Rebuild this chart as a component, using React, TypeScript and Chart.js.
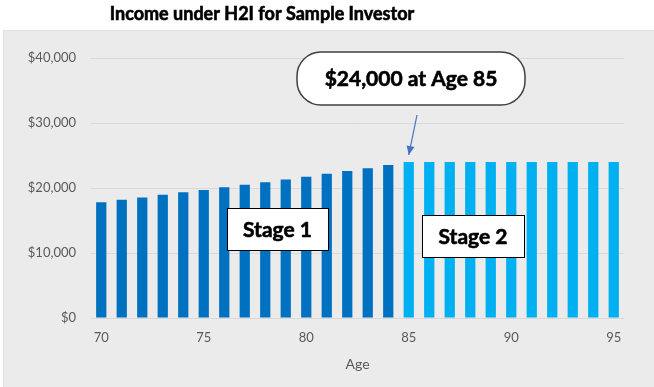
import React, { useEffect, useRef } from "react";
import { Chart, registerables } from "chart.js";

Chart.register(...registerables);

const ages = [70, 71, 72, 73, 74, 75, 76, 77, 78, 79, 80, 81, 82, 83, 84, 85, 86, 87, 88, 89, 90, 91, 92, 93, 94, 95];
const income = [
  17800, 18200, 18550, 18950, 19350, 19700, 20100, 20500, 20900, 21300, 21750, 22200, 22600, 23050, 23550,
  24000, 24000, 24000, 24000, 24000, 24000, 24000, 24000, 24000, 24000, 24000,
];
const stage2StartAge = 85;
const yTicks = [0, 10000, 20000, 30000, 40000];
const xLabelEvery = 5;

const titleText = "Income under H2I for Sample Investor";
const calloutText = "$24,000 at Age 85";
const stage1Text = "Stage 1";
const stage2Text = "Stage 2";
const xTitle = "Age";

const FONT = "Lato, 'Open Sans', sans-serif";
const STAGE1_COLOR = "#0070C0";
const STAGE2_COLOR = "#00B0F0";

function roundRect(ctx: CanvasRenderingContext2D, x: number, y: number, w: number, h: number, r: number) {
  ctx.beginPath();
  ctx.moveTo(x + r, y);
  ctx.lineTo(x + w - r, y);
  ctx.arcTo(x + w, y, x + w, y + r, r);
  ctx.lineTo(x + w, y + h - r);
  ctx.arcTo(x + w, y + h, x + w - r, y + h, r);
  ctx.lineTo(x + r, y + h);
  ctx.arcTo(x, y + h, x, y + h - r, r);
  ctx.lineTo(x, y + r);
  ctx.arcTo(x, y, x + r, y, r);
  ctx.closePath();
}

function boldText(ctx: CanvasRenderingContext2D, t: string, x: number, y: number) {
  ctx.fillText(t, x, y);
  ctx.lineWidth = 0.6;
  ctx.strokeStyle = ctx.fillStyle as string;
  ctx.strokeText(t, x, y);
}

const decorPlugin = {
  id: "decor",
  beforeDraw(chart: any) {
    const ctx = chart.ctx as CanvasRenderingContext2D;
    ctx.save();
    ctx.fillStyle = "#ffffff";
    ctx.fillRect(0, 0, chart.width, chart.height);
    ctx.fillStyle = "#EBEBEB";
    ctx.fillRect(3, 30, chart.width - 3, chart.height - 30);
    ctx.strokeStyle = "#E0E0E0";
    ctx.lineWidth = 1;
    ctx.strokeRect(3.5, 30.5, chart.width - 3, chart.height - 30);
    ctx.restore();
  },
  afterDraw(chart: any) {
    const ctx = chart.ctx as CanvasRenderingContext2D;
    const xs = chart.scales.x;
    const ys = chart.scales.y;
    ctx.save();
    // title
    ctx.fillStyle = "#000000";
    ctx.font = `bold 18px ${FONT}`;
    ctx.textAlign = "center";
    ctx.textBaseline = "middle";
    boldText(ctx, titleText, 262, 14);

    // callout pill
    const idx85 = ages.indexOf(stage2StartAge);
    const tipX = xs.getPixelForValue(idx85);
    const tipY = ys.getPixelForValue(income[idx85]) - 7;
    const pillX = 297, pillY = 52, pillW = 228, pillH = 53;
    roundRect(ctx, pillX, pillY, pillW, pillH, 24);
    ctx.fillStyle = "#ffffff";
    ctx.fill();
    ctx.strokeStyle = "#404040";
    ctx.lineWidth = 1.5;
    ctx.stroke();
    ctx.fillStyle = "#000000";
    ctx.font = `bold 21px ${FONT}`;
    boldText(ctx, calloutText, pillX + pillW / 2, pillY + pillH / 2 + 1);

    // arrow
    const sx = 417, sy = 115;
    ctx.strokeStyle = "#4472C4";
    ctx.fillStyle = "#4472C4";
    ctx.lineWidth = 1.2;
    ctx.beginPath();
    ctx.moveTo(sx, sy);
    ctx.lineTo(tipX, tipY);
    ctx.stroke();
    const ang = Math.atan2(tipY - sy, tipX - sx);
    const L = 9, W = 4;
    ctx.beginPath();
    ctx.moveTo(tipX, tipY);
    ctx.lineTo(tipX - L * Math.cos(ang) + W * Math.sin(ang), tipY - L * Math.sin(ang) - W * Math.cos(ang));
    ctx.lineTo(tipX - L * Math.cos(ang) - W * Math.sin(ang), tipY - L * Math.sin(ang) + W * Math.cos(ang));
    ctx.closePath();
    ctx.fill();

    // stage boxes
    const box = (x: number, y: number, w: number, h: number, t: string) => {
      ctx.fillStyle = "#ffffff";
      ctx.fillRect(x, y, w, h);
      ctx.strokeStyle = "#000000";
      ctx.lineWidth = 1;
      ctx.strokeRect(x + 0.5, y + 0.5, w, h);
      ctx.fillStyle = "#000000";
      ctx.font = `bold 21px ${FONT}`;
      ctx.textAlign = "center";
      ctx.textBaseline = "middle";
      boldText(ctx, t, x + w / 2, y + h / 2 + 1);
    };
    box(227, 208, 101, 42, stage1Text);
    box(422, 215, 102, 42, stage2Text);
    ctx.restore();
  },
};

export default function App() {
  const ref = useRef<HTMLCanvasElement>(null);
  useEffect(() => {
    document.body.style.margin = "0";
    const colors = ages.map((a) => (a < stage2StartAge ? STAGE1_COLOR : STAGE2_COLOR));
    const chart = new Chart(ref.current as HTMLCanvasElement, {
      type: "bar",
      data: {
        labels: ages.map(String),
        datasets: [
          {
            label: "Income",
            data: income,
            backgroundColor: colors,
            borderWidth: 0,
            categoryPercentage: 1,
            barPercentage: 0.5,
          },
        ],
      },
      options: {
        animation: false,
        responsive: false,
        devicePixelRatio: 1,
        layout: { padding: { top: 58, right: 30, bottom: 0, left: 0 } },
        plugins: { legend: { display: false }, tooltip: { enabled: false }, title: { display: false } },
        scales: {
          x: {
            grid: { display: false, drawTicks: false },
            border: { display: false },
            ticks: {
              autoSkip: false,
              maxRotation: 0,
              padding: 12,
              color: "#595959",
              font: { family: FONT, size: 13 },
              callback: (_v: any, i: number) => (ages[i] % xLabelEvery === 0 ? String(ages[i]) : ""),
            },
            title: {
              display: true,
              text: xTitle,
              color: "#595959",
              font: { family: FONT, size: 14 },
              padding: { top: 0, bottom: 14 },
            },
            afterFit: (s: any) => {
              s.height = 69;
            },
          },
          y: {
            min: 0,
            max: 40000,
            afterBuildTicks: (s: any) => {
              s.ticks = yTicks.map((v) => ({ value: v }));
            },
            grid: { color: "#D9D9D9", lineWidth: 1, drawTicks: false },
            border: { display: false },
            ticks: {
              padding: 15,
              color: "#595959",
              font: { family: FONT, size: 13 },
              callback: (v: any) => "$" + Number(v).toLocaleString("en-US"),
            },
            afterFit: (s: any) => {
              s.width = 91;
            },
          },
        },
      },
      plugins: [decorPlugin],
    } as any);
    return () => chart.destroy();
  }, []);
  return (
    <div style={{ position: "fixed", left: 0, top: 0, width: 654, height: 387 }}>
      <canvas ref={ref} width={654} height={387} style={{ width: 654, height: 387, display: "block" }} />
    </div>
  );
}
